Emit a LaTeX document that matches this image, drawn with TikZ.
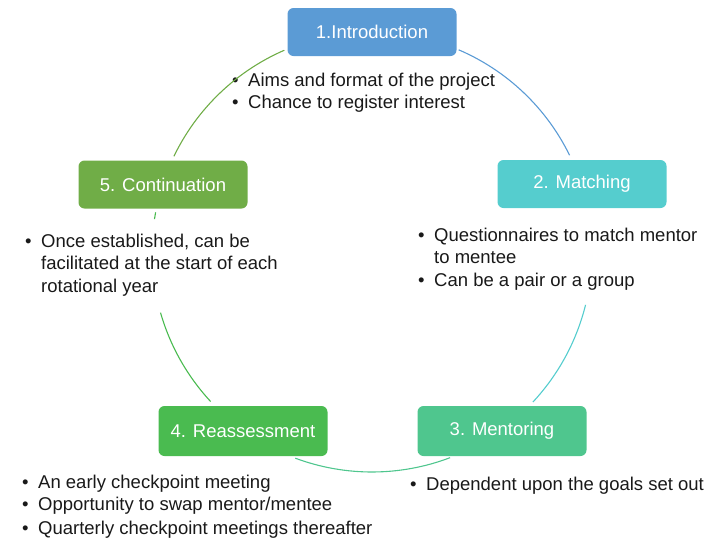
\documentclass[tikz,border=0pt]{standalone}
\usepackage{fontspec}
\setmainfont{Liberation Sans}

\definecolor{introblue}{HTML}{5B9BD5}
\definecolor{matchteal}{HTML}{55CDCE}
\definecolor{mentorgreen}{HTML}{4FC68E}
\definecolor{reassgreen}{HTML}{4ABB50}
\definecolor{contgreen}{HTML}{70AD47}

\newcommand{\bul}{\makebox[16pt][l]{\textbullet}}
\newcommand{\ind}{\hspace*{16pt}}

\begin{document}
\begin{tikzpicture}[x=1pt, y=1pt, every node/.style={font=\fontsize{18.5}{21.5}\selectfont}]
\tikzset{
  stage/.style={
    rectangle, rounded corners=6pt,
    minimum width=169pt, minimum height=48pt,
    text=white, align=center, inner sep=0pt
  },
  notes/.style={anchor=base west, align=left, inner sep=0pt, text=black!90},
  cycle/.style={line width=1.1pt}
}
\useasboundingbox (0,0) rectangle (710,-539);

\coordinate (hub) at (372,-252);

\node[stage, fill=introblue]   (intro)    at (372,-32)  {1.Introduction};
\node[stage, fill=matchteal]   (match)    at (582,-184) {2. Matching};
\node[stage, fill=mentorgreen, minimum height=50pt] (mentor)   at (502,-431) {3. Mentoring};
\node[stage, fill=reassgreen, minimum height=50pt]  (reassess) at (243,-431) {4. Reassessment};
\node[stage, fill=contgreen]   (contin)   at (163,-184.5) {5. Continuation};

% notes sit on the baseline of their last line
\node[notes] (introtxt) at (232,-108)
  {\bul Aims and format of the project\\ \bul Chance to register interest};
\node[notes] (matchtxt) at (418,-286)
  {\bul Questionnaires to match mentor\\ \ind to mentee\\[1.5pt] \bul Can be a pair or a group};
\node[notes] (mentortxt) at (410,-490)
  {\bul Dependent upon the goals set out};
\node[notes] (reasstxt) at (22,-534)
  {\bul An early checkpoint meeting\\ \bul Opportunity to swap mentor/mentee\\[2.5pt] \bul Quarterly checkpoint meetings thereafter};
\node[notes] (contintxt) at (25,-292)
  {\bul Once established, can be\\ \ind facilitated at the start of each\\[1.5pt] \ind rotational year};

% arcs of the cycle
\draw[cycle, introblue]   ([shift={(66.8:220pt)}]hub)   arc[start angle=66.8,   end angle=26.1,   radius=220pt];
\draw[cycle, matchteal]   ([shift={(-13.9:220pt)}]hub)  arc[start angle=-13.9,  end angle=-43,    radius=220pt];
\draw[cycle, mentorgreen] ([shift={(-69.2:220pt)}]hub)  arc[start angle=-69.2,  end angle=-110.4, radius=220pt];
\draw[cycle, reassgreen]  ([shift={(-137.2:220pt)}]hub) arc[start angle=-137.2, end angle=-164,   radius=220pt];
\draw[cycle, reassgreen]  ([shift={(-188.6:220pt)}]hub) arc[start angle=-188.6, end angle=-190.4, radius=220pt];
\draw[cycle, contgreen]   ([shift={(154.2:220pt)}]hub)  arc[start angle=154.2,  end angle=113.5,  radius=220pt];
\end{tikzpicture}
\end{document}
